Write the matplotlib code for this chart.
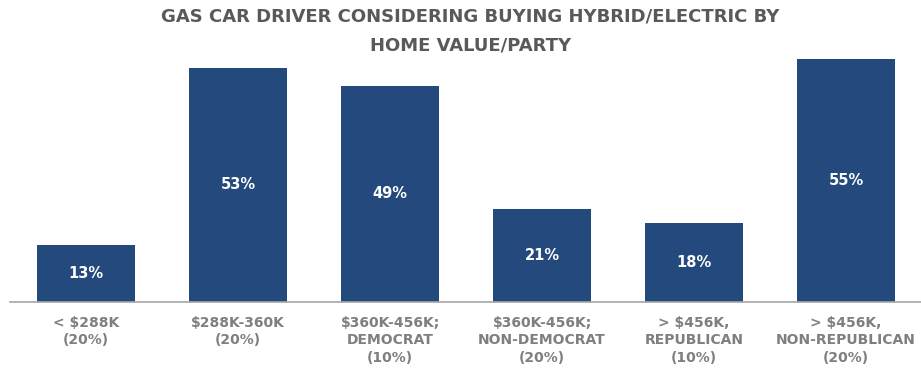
import matplotlib
matplotlib.use("Agg")
import matplotlib.pyplot as plt

categories = [
    "< $288K\n(20%)",
    "$288K-360K\n(20%)",
    "$360K-456K;\nDEMOCRAT\n(10%)",
    "$360K-456K;\nNON-DEMOCRAT\n(20%)",
    "> $456K,\nREPUBLICAN\n(10%)",
    "> $456K,\nNON-REPUBLICAN\n(20%)",
]
values = [13, 53, 49, 21, 18, 55]
value_labels = ["13%", "53%", "49%", "21%", "18%", "55%"]
title = "GAS CAR DRIVER CONSIDERING BUYING HYBRID/ELECTRIC BY\nHOME VALUE/PARTY"

BAR_COLOR = "#23497D"
TITLE_COLOR = "#595959"
LABEL_COLOR = "#7F7F7F"

fig = plt.figure(figsize=(9.21, 3.69), dpi=100)
ax = fig.add_axes([10 / 921, 1 - 302 / 369, 1 - 10 / 921, 265 / 369])

x = list(range(len(values)))
ax.bar(x, values, width=0.64, color=BAR_COLOR, zorder=2)
ax.set_xlim(-0.5, -0.5 + 911 / 152)
ax.set_ylim(0, 60)

for xi, v, lab in zip(x, values, value_labels):
    ax.text(xi, v / 2, lab, ha="center", va="center", color="white",
            fontsize=10.5, fontweight="bold", family="DejaVu Sans")

for s in ["top", "right", "left"]:
    ax.spines[s].set_visible(False)
ax.spines["bottom"].set_color("#A6A6A6")
ax.spines["bottom"].set_linewidth(1.2)
ax.set_yticks([])
ax.set_xticks(x)
ax.set_xticklabels(categories, fontsize=10, fontweight="bold", color=LABEL_COLOR,
                   family="DejaVu Sans", linespacing=1.32)
ax.tick_params(axis="x", length=0, pad=10)

fig.text(0.511, 1 - 31 / 369, title, ha="center", va="center", fontsize=13,
         fontweight="bold", color=TITLE_COLOR, family="DejaVu Sans",
         linespacing=1.72)

fig.savefig("out.png", dpi=100)
